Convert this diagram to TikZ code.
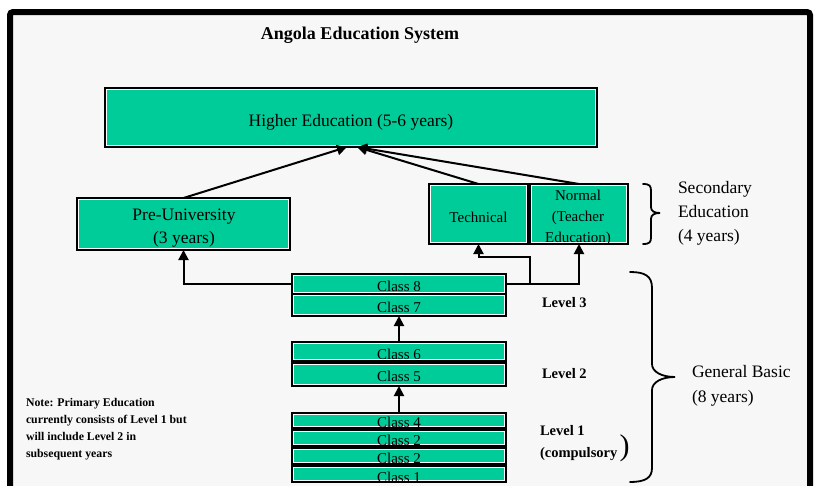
\documentclass[tikz,border=0pt]{standalone}
\usepackage{fontspec}
\setmainfont{Liberation Serif}
\usetikzlibrary{arrows.meta,calc}
\definecolor{boxgreen}{RGB}{0,204,153}
\definecolor{bggray}{RGB}{247,247,247}
\newcommand\fsz[2]{\fontsize{#1}{#2}\selectfont}
\begin{document}
\begin{tikzpicture}[x=1pt,y=-1pt,
  tbox/.style={draw=black, line width=2pt, fill=boxgreen, inner sep=0pt, outer sep=0pt, anchor=north west,
    path picture={\draw[white,line width=0.8pt] ([shift={(1.7pt,-1.7pt)}]path picture bounding box.north west) rectangle ([shift={(-1.7pt,1.7pt)}]path picture bounding box.south east);}},
  txt/.style={inner sep=0pt, outer sep=0pt, anchor=base},
  bigtxt/.style={txt, font=\fsz{17.5}{24}},
  midtxt/.style={txt, font=\fsz{15}{21}},
  clstxt/.style={txt, font=\fsz{15}{15}},
  lvltxt/.style={txt, anchor=base west, font=\bfseries\fsz{14.5}{22}},
  arr/.style={line width=2pt, -{Triangle[length=10pt,width=10pt]}},
  brc/.style={line width=1.8pt, line cap=round}
]
\clip (0,0) rectangle (814,485);
% frame
\fill[white] (0,0) rectangle (814,485);
\fill[bggray] (10,12) rectangle (810,520);
\draw[line width=6pt, rounded corners=3pt] (10,12) rectangle (810,520);

% title
\node[txt, font=\bfseries\fsz{18}{20}] (title) at (360,39) {Angola Education System};

% boxes
\node[tbox, minimum width=492pt, minimum height=59pt] (he) at (105,88) {};
\node[tbox, minimum width=213pt, minimum height=52pt] (pu) at (77,198) {};
\node[tbox, minimum width=99pt, minimum height=60pt] (tech) at (429,184) {};
\node[tbox, minimum width=98pt, minimum height=60pt] (norm) at (530,184) {};
\node[tbox, minimum width=214pt, minimum height=20pt] (c8) at (292,274) {};
\node[tbox, minimum width=214pt, minimum height=22pt] (c7) at (292,294) {};
\node[tbox, minimum width=214pt, minimum height=19pt] (c6) at (292,342) {};
\node[tbox, minimum width=214pt, minimum height=23pt] (c5) at (292,363) {};
\node[tbox, minimum width=214pt, minimum height=15pt] (c4) at (292,413) {};
\node[tbox, minimum width=214pt, minimum height=16pt] (c2a) at (292,430) {};
\node[tbox, minimum width=214pt, minimum height=16pt] (c2b) at (292,448) {};
\node[tbox, minimum width=214pt, minimum height=16pt] (c1) at (292,466) {};

% box texts (multi-line nodes: base = last line)
\node[bigtxt] (het) at (351,126) {Higher Education (5-6 years)};
\node[bigtxt, align=center, font=\fsz{17.5}{22.5}] (put) at (184,243) {Pre-University\\(3 years)};
\node[midtxt] (techt) at (478.5,222) {Technical};
\node[midtxt, align=center] (normt) at (578,242) {Normal\\(Teacher\\Education)};
\node[clstxt] (c8t) at (399,291) {Class 8};
\node[clstxt] (c7t) at (399,312) {Class 7};
\node[clstxt] (c6t) at (399,359) {Class 6};
\node[clstxt] (c5t) at (399,381) {Class 5};
\node[clstxt] (c4t) at (399,427) {Class 4};
\node[clstxt] (c2at) at (399,445.5) {Class 2};
\node[clstxt] (c2bt) at (399,463.5) {Class 2};
\node[clstxt] (c1t) at (399,482) {Class 1};

% connectors
\draw[arr] (pu.north) -- ([xshift=-4pt]he.south);
\draw[arr] (tech.north) -- ([xshift=6pt]he.south);
\draw[arr] (norm.north) -- ([xshift=6pt]he.south);
\draw[arr] (c8.west) -| (pu.south);
\draw[arr] (c8.east) -| (norm.south);
\draw[arr] ([xshift=24pt]c8.east) |- ([yshift=-13pt]tech.south) -- (tech.south);
\draw[arr] (c6.north) -- (c7.south);
\draw[arr] (c4.north) -- (c5.south);

% right side labels
\node[txt, anchor=base west, align=left, font=\fsz{17.5}{24}] (sec) at (678,241) {Secondary\\Education\\(4 years)};
\node[lvltxt] (l3) at (542,307.5) {Level 3};
\node[lvltxt] (l2) at (542,378) {Level 2};
\node[lvltxt, align=left] (l1) at (540,457) {Level 1\\(compulsory};
\node[txt, anchor=base west, font=\fsz{30}{30}] (paren) at (619.5,455.5) {)};
\node[txt, anchor=base west, align=left, font=\fsz{17.5}{24.5}] (gb) at (692,402) {General Basic\\(8 years)};

% note
\node[txt, anchor=base west, align=left, font=\bfseries\fsz{11.8}{17}] (note) at (26,457) {Note: Primary Education\\currently consists of Level 1 but\\will include Level 2 in\\subsequent years};

% braces
\draw[brc] (643,184) .. controls (650,184) and (651,186) .. (651,191) -- (651,207) .. controls (651,211) and (654,213) .. (660,213) .. controls (654,213) and (651,215) .. (651,219) -- (651,237) .. controls (651,242) and (650,244) .. (643,244);
\draw[brc] (630,272) .. controls (645,272) and (652,276) .. (652,288) -- (652,364) .. controls (652,372) and (662,377) .. (675,377) .. controls (662,377) and (652,382) .. (652,390) -- (652,468) .. controls (652,478) and (645,482) .. (630,482);
\end{tikzpicture}
\end{document}
